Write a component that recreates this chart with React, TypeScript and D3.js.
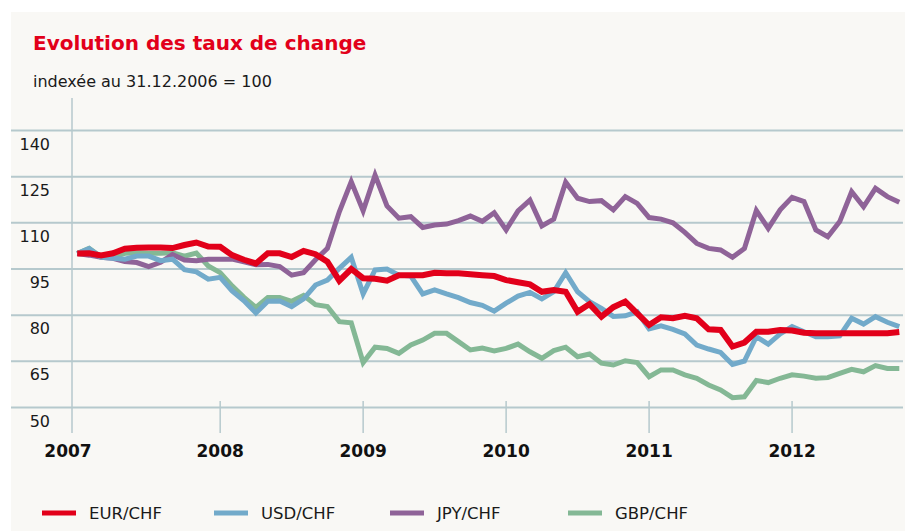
import React from "react";
import * as d3 from "d3";

const W = 909;
const H = 531;

// Monthly index values, 31.12.2006 = 100, Dec 2006 .. Sep 2012 (70 points)
const eurChf = [100, 100.1, 99.4, 100.1, 101.6, 101.9, 102.0, 102.0, 101.8, 102.8, 103.6, 102.3, 102.2, 99.5, 98.0, 96.8, 100.1, 100.1, 98.9, 100.9, 99.8, 97.4, 91.2, 95.0, 92.0, 91.8, 91.2, 93.0, 93.0, 93.0, 93.8, 93.6, 93.6, 93.3, 93.0, 92.7, 91.4, 90.7, 90.0, 87.6, 88.2, 87.6, 81.1, 83.6, 79.5, 82.6, 84.4, 80.6, 76.8, 79.3, 79.0, 79.8, 79.0, 75.4, 75.2, 69.8, 71.1, 74.6, 74.6, 75.2, 75.0, 74.3, 74.1, 74.1, 74.1, 74.1, 74.1, 74.1, 74.1, 74.5];
const usdChf = [100, 101.6, 98.8, 98.5, 98.2, 99.2, 99.2, 97.7, 98.2, 94.8, 94.1, 91.7, 92.3, 87.9, 84.7, 80.7, 84.5, 84.6, 82.8, 85.3, 89.8, 91.4, 95.2, 98.8, 86.9, 94.7, 95.0, 93.0, 92.7, 86.9, 88.2, 86.9, 85.7, 84.1, 83.2, 81.3, 83.9, 86.2, 87.4, 85.3, 87.6, 93.8, 87.6, 84.4, 82.2, 79.6, 79.8, 81.1, 75.5, 76.5, 75.4, 73.9, 70.3, 69.0, 67.9, 64.0, 65.1, 73.0, 70.6, 73.9, 76.3, 74.6, 73.0, 73.0, 73.3, 79.0, 77.1, 79.5, 77.7, 76.3];
const jpyChf = [100, 99.5, 98.8, 98.5, 97.4, 97.1, 95.8, 97.2, 99.7, 97.9, 97.7, 98.2, 98.2, 98.2, 97.3, 96.4, 96.5, 95.8, 93.0, 93.8, 98.0, 101.7, 113.6, 123.4, 113.9, 125.5, 115.5, 111.5, 112.0, 108.5, 109.3, 109.6, 110.7, 112.2, 110.5, 113.3, 107.7, 113.9, 117.4, 109.0, 111.2, 123.2, 118.0, 116.9, 117.2, 114.2, 118.5, 116.3, 111.7, 111.2, 110.0, 106.9, 103.3, 101.7, 101.2, 98.8, 101.7, 114.0, 108.2, 114.2, 118.3, 116.9, 107.7, 105.5, 110.4, 120.1, 115.2, 121.2, 118.5, 116.7];
const gbpChf = [100, 101.7, 99.0, 98.8, 100.1, 100.3, 100.1, 100.1, 100.3, 99.2, 100.2, 96.0, 93.8, 89.5, 85.8, 82.5, 85.7, 85.7, 84.5, 86.4, 83.4, 82.8, 77.9, 77.5, 64.6, 69.6, 69.2, 67.6, 70.3, 71.9, 74.1, 74.1, 71.4, 68.7, 69.3, 68.4, 69.2, 70.6, 68.1, 66.0, 68.5, 69.6, 66.5, 67.4, 64.4, 63.8, 65.2, 64.6, 60.0, 62.2, 62.2, 60.6, 59.5, 57.3, 55.7, 53.2, 53.5, 58.8, 58.1, 59.5, 60.6, 60.2, 59.5, 59.7, 61.1, 62.4, 61.6, 63.6, 62.7, 62.7];

const yTicks = [50, 65, 80, 95, 110, 125, 140];
const years = [2007, 2008, 2009, 2010, 2011, 2012];

const seriesNames = ["EUR/CHF", "USD/CHF", "JPY/CHF", "GBP/CHF"];
const seriesValues = [eurChf, usdChf, jpyChf, gbpChf];
const seriesColors = ["#e2001a", "#72aaca", "#8f6398", "#84b895"];
const seriesWidths = [6, 5, 5, 5];

export default function App() {
  const axisX = 72;
  const gridLeft = 11;
  const gridRight = 903;
  const x = d3.scaleLinear().domain([0, eurChf.length - 1]).range([77.2, 899.3]);
  const y = d3.scaleLinear().domain([50, 140]).range([407.5, 130.5]);
  const line = d3
    .line<number>()
    .x((_, i) => x(i))
    .y((v) => y(v));

  const gridColor = "#b6c9cd";
  const font = "'DejaVu Sans', Verdana, sans-serif";
  const drawOrder = [3, 2, 1, 0];
  const legendX = [42, 214, 390, 568];

  return (
    <svg
      width={W}
      height={H}
      style={{ position: "absolute", left: 0, top: 0, display: "block" }}
    >
      <rect x={0} y={0} width={W} height={H} fill="#ffffff" />
      <rect x={11} y={12} width={894} height={H - 12} fill="#f9f8f5" />
      <text x={33} y={50} fill="#e2001a" fontFamily={font} fontWeight="bold" fontSize={20}>
        Evolution des taux de change
      </text>
      <text x={33} y={87} fill="#1a1a1a" fontFamily={font} fontSize={16}>
        indexée au 31.12.2006 = 100
      </text>

      {yTicks.map((t) => (
        <g key={t}>
          <line x1={gridLeft} x2={gridRight} y1={y(t)} y2={y(t)} stroke={gridColor} strokeWidth={2} />
          <text x={50} y={y(t) + 19} textAnchor="end" fontFamily={font} fontSize={16} fill="#1a1a1a">
            {t}
          </text>
        </g>
      ))}
      <line x1={axisX} x2={axisX} y1={98} y2={433} stroke={gridColor} strokeWidth={1.5} />
      {years.map((yr, k) => {
        const xi = k === 0 ? axisX : x(k * 12);
        return (
          <g key={yr}>
            {k > 0 && <line x1={xi} x2={xi} y1={401} y2={433} stroke={gridColor} strokeWidth={1.5} />}
            <text
              x={k === 0 ? xi - 4 : xi}
              y={457}
              textAnchor="middle"
              fontFamily={font}
              fontWeight="bold"
              fontSize={17}
              fill="#111"
            >
              {yr}
            </text>
          </g>
        );
      })}

      {drawOrder.map((si) => (
        <path
          key={seriesNames[si]}
          d={line(seriesValues[si]) || ""}
          fill="none"
          stroke={seriesColors[si]}
          strokeWidth={seriesWidths[si]}
          strokeLinejoin="miter"
          strokeMiterlimit={3}
          strokeLinecap="butt"
        />
      ))}

      {seriesNames.map((n, i) => (
        <g key={n}>
          <line x1={legendX[i]} x2={legendX[i] + 34} y1={513} y2={513} stroke={seriesColors[i]} strokeWidth={5} />
          <text x={legendX[i] + 47} y={519} fontFamily={font} fontSize={16.5} fill="#1a1a1a">
            {n}
          </text>
        </g>
      ))}
    </svg>
  );
}
